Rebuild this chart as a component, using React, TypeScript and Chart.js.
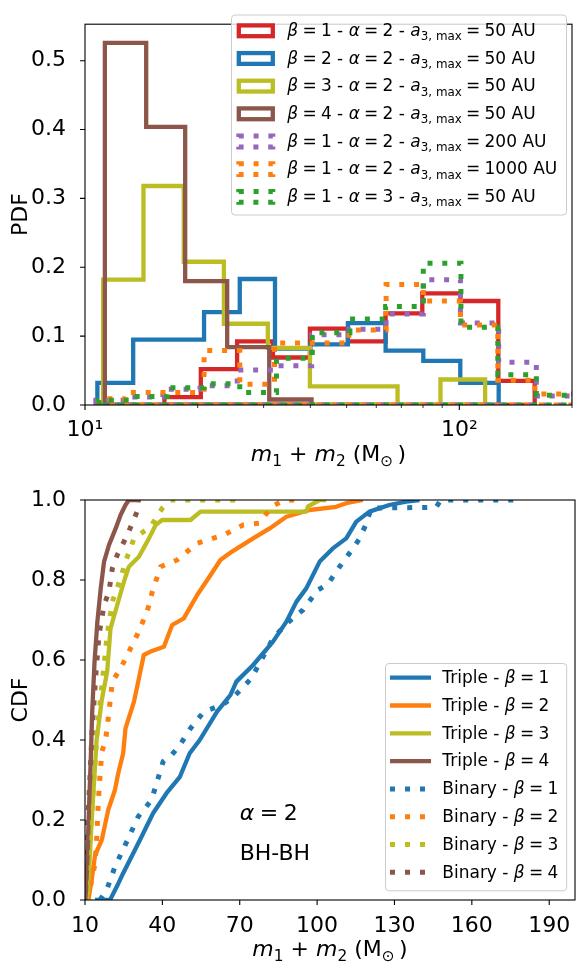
import React, { useEffect, useRef } from 'react';
import { Chart, registerables } from 'chart.js';
Chart.register(...registerables);

const FONT = '"DejaVu Sans", sans-serif';
const W = 576;
const TOP_H = 470;
const BOT_H = 492;
const TICK_SIZE = 22;
const LEG_SIZE = 17;

// ---------------- PDF (top panel) ----------------
const pdfBeta = [1, 2, 3, 4, 1, 1, 1];
const pdfAlpha = [2, 2, 2, 2, 2, 2, 3];
const pdfAmax = [50, 50, 50, 50, 200, 1000, 50];
const pdfColors = ['#d62728', '#1f77b4', '#bcbd22', '#8c564b', '#9467bd', '#ff7f0e', '#2ca02c'];
const pdfDotted = [false, false, false, false, true, true, true];

const edgesB1 = [16.3, 20.39, 25.49, 31.78, 39.89, 50.39, 63.55, 79.64, 100.6, 127.1, 159.0];
const pdfB1 = [0.0115, 0.052, 0.0925, 0.069, 0.111, 0.0925, 0.133, 0.162, 0.151, 0.035];
const edgesB2 = [10.79, 13.45, 16.7, 20.8, 25.91, 32.18, 40.0, 50.39, 63.55, 80.13, 100.6, 127.4];
const pdfB2 = [0.032, 0.095, 0.095, 0.135, 0.183, 0.082, 0.088, 0.119, 0.079, 0.064, 0.032];
const edgesB3 = [11.18, 14.33, 18.36, 23.5, 30.79, 39.89, 52.27, 68.39, 89.05, 117.2];
const pdfB3 = [0.182, 0.318, 0.208, 0.118, 0.083, 0.027, 0.027, 0, 0.037];
const edgesB4 = [11.3, 14.57, 18.52, 23.98, 31.06, 40.29];
const pdfB4 = [0.526, 0.404, 0.18, 0.084, 0.008];
const edgesA200 = [10.69, 12.84, 16.15, 20.29, 25.51, 32.07, 40.33, 50.7, 63.74, 80.12, 100.7, 127.4, 160.6, 202.6];
const pdfA200 = [0.007, 0.0115, 0.023, 0.028, 0.051, 0.057, 0.102, 0.11, 0.132, 0.182, 0.119, 0.062, 0.013];
const edgesA1000 = [10.89, 12.84, 16.15, 20.8, 25.91, 32.08, 40.34, 50.7, 63.74, 80.13, 100.7, 126.7, 159.2, 202.6];
const pdfA1000 = [0.009, 0.018, 0.018, 0.079, 0.03, 0.09, 0.09, 0.109, 0.175, 0.151, 0.116, 0.036, 0.016];
const edgesAlpha3 = [10.89, 13.24, 16.6, 20.8, 25.91, 32.47, 40.47, 51.01, 63.55, 80.13, 101.0, 126.7, 160.6, 202.6];
const pdfAlpha3 = [0.007, 0.0125, 0.025, 0.031, 0.018, 0.068, 0.105, 0.125, 0.143, 0.206, 0.113, 0.044, 0.014];

const pdfEdges = [edgesB1, edgesB2, edgesB3, edgesB4, edgesA200, edgesA1000, edgesAlpha3];
const pdfHeights = [pdfB1, pdfB2, pdfB3, pdfB4, pdfA200, pdfA1000, pdfAlpha3];

const pdfXMajor = [10, 100];
const pdfXMinor = [20, 30, 40, 50, 60, 70, 80, 90, 200];
const pdfYTicks = [0, 0.1, 0.2, 0.3, 0.4, 0.5];

// ---------------- CDF (bottom panel) ----------------
const triple1X = [13.9, 19.7, 22.3, 24.8, 27.4, 31.3, 36.4, 41.6, 46.8, 50.6, 54.5, 61.2, 66.4, 68.7, 75.2, 82.9, 88.1, 92.0, 95.8, 101.0, 106.1, 111.3, 115.2, 120.3, 128.0, 134.5, 139.7];
const triple1Y = [0, 0, 0.033, 0.067, 0.1, 0.15, 0.217, 0.267, 0.308, 0.367, 0.4, 0.471, 0.5125, 0.546, 0.5875, 0.646, 0.696, 0.746, 0.779, 0.846, 0.879, 0.904, 0.946, 0.971, 0.9875, 0.996, 1.0];
const triple2X = [11.3, 12.6, 13.9, 16.5, 19.0, 21.6, 22.9, 24.8, 25.7, 29.0, 30.9, 32.8, 35.4, 40.6, 43.8, 48.3, 53.5, 58.7, 62.5, 67.0, 75.2, 81.6, 88.1, 97.1, 107.4, 111.3, 117.7];
const triple2Y = [0, 0.05, 0.1125, 0.15, 0.225, 0.275, 0.317, 0.367, 0.429, 0.496, 0.554, 0.6125, 0.621, 0.633, 0.6875, 0.704, 0.7625, 0.8125, 0.85, 0.871, 0.904, 0.929, 0.958, 0.975, 0.983, 0.992, 1.0];
const triple3X = [11.0, 12.6, 14.5, 16.5, 18.6, 19.9, 22.5, 25.1, 27.0, 30.9, 34.8, 37.4, 39.9, 50.9, 54.8, 95.8, 96.5, 101.0, 103.5];
const triple3Y = [0, 0.2, 0.4, 0.5, 0.571, 0.679, 0.7375, 0.796, 0.833, 0.858, 0.904, 0.9375, 0.95, 0.95, 0.971, 0.971, 0.984, 1.0, 1.0];
const triple4X = [10.2, 10.9, 11.5, 12.2, 12.8, 13.7, 14.8, 16.1, 17.4, 19.3, 21.9, 23.8, 25.7, 27.0, 31.6];
const triple4Y = [0, 0.096, 0.221, 0.346, 0.471, 0.596, 0.696, 0.779, 0.846, 0.8875, 0.929, 0.9625, 0.9875, 1.0, 1.0];
const binary1X = [15.8, 18.4, 21.6, 26.8, 30.6, 35.8, 40.3, 43.6, 46.8, 50.9, 56.1, 63.2, 68.0, 74.5, 82.9, 88.0, 94.5, 100.3, 104.2, 108.7, 113.9, 116.5, 119.0, 121.0, 146.1, 148.0, 179.7];
const binary1Y = [0, 0.025, 0.083, 0.154, 0.208, 0.25, 0.346, 0.3625, 0.3875, 0.429, 0.471, 0.4875, 0.51, 0.554, 0.654, 0.69, 0.725, 0.775, 0.79, 0.833, 0.879, 0.904, 0.94, 0.98, 0.9815, 1.0, 1.0];
const binary2X = [11.0, 11.3, 13.9, 14.5, 15.2, 15.8, 16.5, 18.0, 19.3, 20.6, 23.8, 26.4, 30.2, 34.1, 36.1, 39.3, 45.7, 53.5, 63.8, 71.3, 77.7, 82.3, 86.1, 90.0, 93.0];
const binary2Y = [0, 0.008, 0.092, 0.15, 0.25, 0.308, 0.37, 0.4, 0.471, 0.546, 0.579, 0.6125, 0.6625, 0.721, 0.771, 0.833, 0.85, 0.892, 0.9125, 0.9375, 0.942, 0.983, 0.996, 1.0, 1.0];
const binary3X = [10.5, 10.9, 12.2, 13.5, 14.8, 16.7, 18.6, 20.6, 23.8, 25.7, 29.0, 35.4, 39.9, 43.2, 70.0];
const binary3Y = [0, 0.04, 0.179, 0.304, 0.429, 0.546, 0.6625, 0.746, 0.804, 0.846, 0.904, 0.933, 0.979, 1.0, 1.0];
const binary4X = [10.0, 10.3, 10.9, 11.9, 12.8, 14.1, 15.4, 17.4, 19.3, 20.6, 22.5, 26.4, 30.2, 30.6, 31.5];
const binary4Y = [0, 0.054, 0.179, 0.304, 0.429, 0.554, 0.6625, 0.7375, 0.771, 0.829, 0.8625, 0.9125, 0.971, 1.0, 1.0];

const cdfKinds = ['Triple', 'Triple', 'Triple', 'Triple', 'Binary', 'Binary', 'Binary', 'Binary'];
const cdfBeta = [1, 2, 3, 4, 1, 2, 3, 4];
const cdfColors = ['#1f77b4', '#ff7f0e', '#bcbd22', '#8c564b', '#1f77b4', '#ff7f0e', '#bcbd22', '#8c564b'];
const cdfDotted = [false, false, false, false, true, true, true, true];
const cdfXs = [triple1X, triple2X, triple3X, triple4X, binary1X, binary2X, binary3X, binary4X];
const cdfYs = [triple1Y, triple2Y, triple3Y, triple4Y, binary1Y, binary2Y, binary3Y, binary4Y];

const cdfXTicks = [10, 40, 70, 100, 130, 160, 190];
const cdfYTicks = [0, 0.2, 0.4, 0.6, 0.8, 1.0];
const annotX = 70;
const annotY1 = 0.2;
const annotY2 = 0.1;

// ---------------- helpers ----------------
type Seg = { t: string; it?: boolean; sub?: boolean };
const EQ = '\u2005=\u2005';

function segFont(s: Seg, size: number) {
  const sz = s.sub ? size * 0.7 : size;
  return `${s.it ? 'italic ' : ''}${sz}px ${FONT}`;
}
function richWidth(ctx: CanvasRenderingContext2D, segs: Seg[], size: number) {
  let w = 0;
  for (const s of segs) {
    ctx.font = segFont(s, size);
    w += ctx.measureText(s.t).width;
  }
  return w;
}
function drawRich(ctx: CanvasRenderingContext2D, segs: Seg[], x: number, y: number, size: number, align: 'left' | 'center') {
  const w = richWidth(ctx, segs, size);
  let cx = align === 'center' ? x - w / 2 : x;
  ctx.textAlign = 'left';
  ctx.textBaseline = 'alphabetic';
  ctx.fillStyle = '#000';
  for (const s of segs) {
    ctx.font = segFont(s, size);
    const dy = s.sub ? size * 0.24 : 0;
    ctx.fillText(s.t, cx, y + dy);
    cx += ctx.measureText(s.t).width;
  }
}
function roundRectPath(ctx: CanvasRenderingContext2D, x: number, y: number, w: number, h: number, r: number) {
  ctx.beginPath();
  ctx.moveTo(x + r, y);
  ctx.lineTo(x + w - r, y);
  ctx.arcTo(x + w, y, x + w, y + r, r);
  ctx.lineTo(x + w, y + h - r);
  ctx.arcTo(x + w, y + h, x + w - r, y + h, r);
  ctx.lineTo(x + r, y + h);
  ctx.arcTo(x, y + h, x, y + h - r, r);
  ctx.lineTo(x, y + r);
  ctx.arcTo(x, y, x + r, y, r);
  ctx.closePath();
}
function stepPoints(edges: number[], heights: number[]) {
  const pts: { x: number; y: number }[] = [{ x: edges[0], y: 0 }];
  heights.forEach((h, i) => {
    pts.push({ x: edges[i], y: h });
    pts.push({ x: edges[i + 1], y: h });
  });
  pts.push({ x: edges[edges.length - 1], y: 0 });
  pts.push({ x: edges[0], y: 0 });
  return pts;
}
const xTitle: Seg[] = [
  { t: 'm', it: true }, { t: '1', sub: true }, { t: ' + ' },
  { t: 'm', it: true }, { t: '2', sub: true }, { t: ' (M' }, { t: '\u2299', sub: true }, { t: '\u2009)' },
];
function pdfLabel(i: number): Seg[] {
  return [
    { t: '\u03b2', it: true }, { t: EQ + pdfBeta[i] + ' - ' },
    { t: '\u03b1', it: true }, { t: EQ + pdfAlpha[i] + ' - ' },
    { t: 'a', it: true }, { t: '3, max', sub: true }, { t: EQ + pdfAmax[i] + ' AU' },
  ];
}
function cdfLabel(i: number): Seg[] {
  return [{ t: cdfKinds[i] + ' - ' }, { t: '\u03b2', it: true }, { t: EQ + cdfBeta[i] }];
}

function drawFrame(chart: any, xMajor: number[], xMinor: number[], yTicks: number[]) {
  const { ctx, chartArea: a, scales } = chart;
  ctx.save();
  ctx.strokeStyle = '#000';
  ctx.lineWidth = 1.1;
  ctx.strokeRect(a.left, a.top, a.right - a.left, a.bottom - a.top);
  ctx.beginPath();
  for (const v of xMajor) {
    const p = scales.x.getPixelForValue(v);
    ctx.moveTo(p, a.bottom);
    ctx.lineTo(p, a.bottom + 5);
  }
  for (const v of yTicks) {
    const p = scales.y.getPixelForValue(v);
    ctx.moveTo(a.left, p);
    ctx.lineTo(a.left - 5, p);
  }
  ctx.stroke();
  ctx.lineWidth = 0.8;
  ctx.beginPath();
  for (const v of xMinor) {
    const p = scales.x.getPixelForValue(v);
    ctx.moveTo(p, a.bottom);
    ctx.lineTo(p, a.bottom + 3);
  }
  ctx.stroke();
  ctx.restore();
}
function drawYTitle(ctx: CanvasRenderingContext2D, text: string, x: number, y: number) {
  ctx.save();
  ctx.translate(x, y);
  ctx.rotate(-Math.PI / 2);
  ctx.font = `${TICK_SIZE}px ${FONT}`;
  ctx.fillStyle = '#000';
  ctx.textAlign = 'center';
  ctx.textBaseline = 'alphabetic';
  ctx.fillText(text, 0, 0);
  ctx.restore();
}

const topPlugin = {
  id: 'topDecor',
  afterDraw(chart: any) {
    const { ctx, chartArea: a } = chart;
    drawFrame(chart, pdfXMajor, pdfXMinor, pdfYTicks);
    ctx.save();
    drawRich(ctx, xTitle, (a.left + a.right) / 2, 461, TICK_SIZE, 'center');
    drawYTitle(ctx, 'PDF', 27, (a.top + a.bottom) / 2);
    roundRectPath(ctx, 231.5, 15, 335, 200, 3.5);
    ctx.fillStyle = 'rgba(255,255,255,0.8)';
    ctx.fill();
    ctx.strokeStyle = '#cccccc';
    ctx.lineWidth = 1;
    ctx.stroke();
    for (let i = 0; i < pdfColors.length; i++) {
      const cy = 30.8 + i * 27.67;
      ctx.strokeStyle = pdfColors[i];
      ctx.lineWidth = pdfDotted[i] ? 5 : 4.3;
      ctx.lineJoin = 'miter';
      ctx.lineCap = 'butt';
      ctx.setLineDash(pdfDotted[i] ? [5, 9.8] : []);
      ctx.strokeRect(238.8, cy - 5.4, 34, 10.8);
      ctx.setLineDash([]);
      drawRich(ctx, pdfLabel(i), 287.3, cy + 5.3, LEG_SIZE, 'left');
    }
    ctx.restore();
  },
};

const bottomPlugin = {
  id: 'bottomDecor',
  afterDraw(chart: any) {
    const { ctx, chartArea: a, scales } = chart;
    drawFrame(chart, cdfXTicks, [], cdfYTicks);
    ctx.save();
    drawRich(ctx, xTitle, (a.left + a.right) / 2, 486, TICK_SIZE, 'center');
    drawYTitle(ctx, 'CDF', 27, (a.top + a.bottom) / 2);
    const ax = scales.x.getPixelForValue(annotX);
    drawRich(ctx, [{ t: '\u03b1', it: true }, { t: EQ + '2' }], ax, scales.y.getPixelForValue(annotY1), TICK_SIZE, 'left');
    drawRich(ctx, [{ t: 'BH-BH' }], ax, scales.y.getPixelForValue(annotY2), TICK_SIZE, 'left');
    roundRectPath(ctx, 385.5, 193.5, 181.2, 227.3, 3.5);
    ctx.fillStyle = 'rgba(255,255,255,0.8)';
    ctx.fill();
    ctx.strokeStyle = '#cccccc';
    ctx.lineWidth = 1;
    ctx.stroke();
    for (let i = 0; i < cdfColors.length; i++) {
      const cy = 207.7 + i * 27.8;
      ctx.strokeStyle = cdfColors[i];
      ctx.lineWidth = cdfDotted[i] ? 5 : 4.3;
      ctx.lineCap = 'butt';
      ctx.setLineDash(cdfDotted[i] ? [5, 10] : []);
      ctx.beginPath();
      ctx.moveTo(390, cy);
      ctx.lineTo(431, cy);
      ctx.stroke();
      ctx.setLineDash([]);
      drawRich(ctx, cdfLabel(i), 442.3, cy + 5.3, LEG_SIZE, 'left');
    }
    ctx.restore();
  },
};

const tickFont = { family: FONT, size: TICK_SIZE };

export default function App() {
  const topRef = useRef<HTMLCanvasElement>(null);
  const botRef = useRef<HTMLCanvasElement>(null);

  useEffect(() => {
    const n = pdfEdges.length;
    const top = new Chart(topRef.current!, {
      type: 'line',
      data: {
        datasets: pdfEdges.map((e, i) => ({
          data: stepPoints(e, pdfHeights[i]),
          borderColor: pdfColors[i],
          borderWidth: pdfDotted[i] ? 5 : 4.3,
          borderDash: pdfDotted[i] ? [5, 9.8] : [],
          borderCapStyle: 'butt',
          borderJoinStyle: 'miter',
          pointRadius: 0,
          pointHoverRadius: 0,
          fill: false,
          tension: 0,
          clip: 0,
          order: n - i,
        })) as any,
      },
      options: {
        responsive: false,
        devicePixelRatio: 1,
        animation: false,
        events: [],
        layout: { padding: { left: 0, right: 1, top: 6, bottom: 0 } },
        plugins: { legend: { display: false }, tooltip: { enabled: false } },
        scales: {
          x: {
            type: 'logarithmic',
            min: 10,
            max: 200,
            bounds: 'data',
            grid: { display: false },
            border: { display: false },
            afterBuildTicks: (s: any) => {
              s.ticks = [...pdfXMajor, ...pdfXMinor].sort((p, q) => p - q).map((v) => ({ value: v }));
            },
            afterFit: (s: any) => {
              s.height = TOP_H - 405;
            },
            ticks: {
              autoSkip: false,
              maxRotation: 0,
              padding: 4,
              color: '#000',
              font: tickFont,
              callback: (v: any) => (v === 10 ? '10\u00b9' : v === 100 ? '10\u00b2' : ''),
            },
          },
          y: {
            type: 'linear',
            min: 0,
            max: 0.553,
            bounds: 'data',
            grid: { display: false },
            border: { display: false },
            afterBuildTicks: (s: any) => {
              s.ticks = pdfYTicks.map((v) => ({ value: v }));
            },
            afterFit: (s: any) => {
              s.width = 85;
            },
            ticks: {
              autoSkip: false,
              padding: 11,
              color: '#000',
              font: tickFont,
              callback: (v: any) => Number(v).toFixed(1),
            },
          },
        },
      } as any,
      plugins: [topPlugin],
    });

    const m = cdfXs.length;
    const bot = new Chart(botRef.current!, {
      type: 'line',
      data: {
        datasets: cdfXs.map((xs, i) => ({
          data: xs.map((x, k) => ({ x, y: cdfYs[i][k] })),
          borderColor: cdfColors[i],
          borderWidth: cdfDotted[i] ? 5 : 4.3,
          borderDash: cdfDotted[i] ? [5, 10] : [],
          borderCapStyle: 'butt',
          borderJoinStyle: 'round',
          pointRadius: 0,
          pointHoverRadius: 0,
          fill: false,
          tension: 0,
          clip: 0,
          order: m - i,
        })) as any,
      },
      options: {
        responsive: false,
        devicePixelRatio: 1,
        animation: false,
        events: [],
        layout: { padding: { left: 0, right: 1, top: 30, bottom: 0 } },
        plugins: { legend: { display: false }, tooltip: { enabled: false } },
        scales: {
          x: {
            type: 'linear',
            min: 10,
            max: 200,
            bounds: 'data',
            grid: { display: false },
            border: { display: false },
            afterBuildTicks: (s: any) => {
              s.ticks = cdfXTicks.map((v) => ({ value: v }));
            },
            afterFit: (s: any) => {
              s.height = BOT_H - 430;
            },
            ticks: {
              autoSkip: false,
              maxRotation: 0,
              padding: 5,
              color: '#000',
              font: tickFont,
              callback: (v: any) => String(v),
            },
          },
          y: {
            type: 'linear',
            min: 0,
            max: 1,
            bounds: 'data',
            grid: { display: false },
            border: { display: false },
            afterBuildTicks: (s: any) => {
              s.ticks = cdfYTicks.map((v) => ({ value: v }));
            },
            afterFit: (s: any) => {
              s.width = 85;
            },
            ticks: {
              autoSkip: false,
              padding: 11,
              color: '#000',
              font: tickFont,
              callback: (v: any) => Number(v).toFixed(1),
            },
          },
        },
      } as any,
      plugins: [bottomPlugin],
    });

    return () => {
      top.destroy();
      bot.destroy();
    };
  }, []);

  return (
    <div style={{ position: 'absolute', left: 0, top: 0, width: W, height: TOP_H + BOT_H, background: '#fff' }}>
      <canvas ref={topRef} width={W} height={TOP_H} style={{ display: 'block', width: W, height: TOP_H }} />
      <canvas ref={botRef} width={W} height={BOT_H} style={{ display: 'block', width: W, height: BOT_H }} />
    </div>
  );
}
